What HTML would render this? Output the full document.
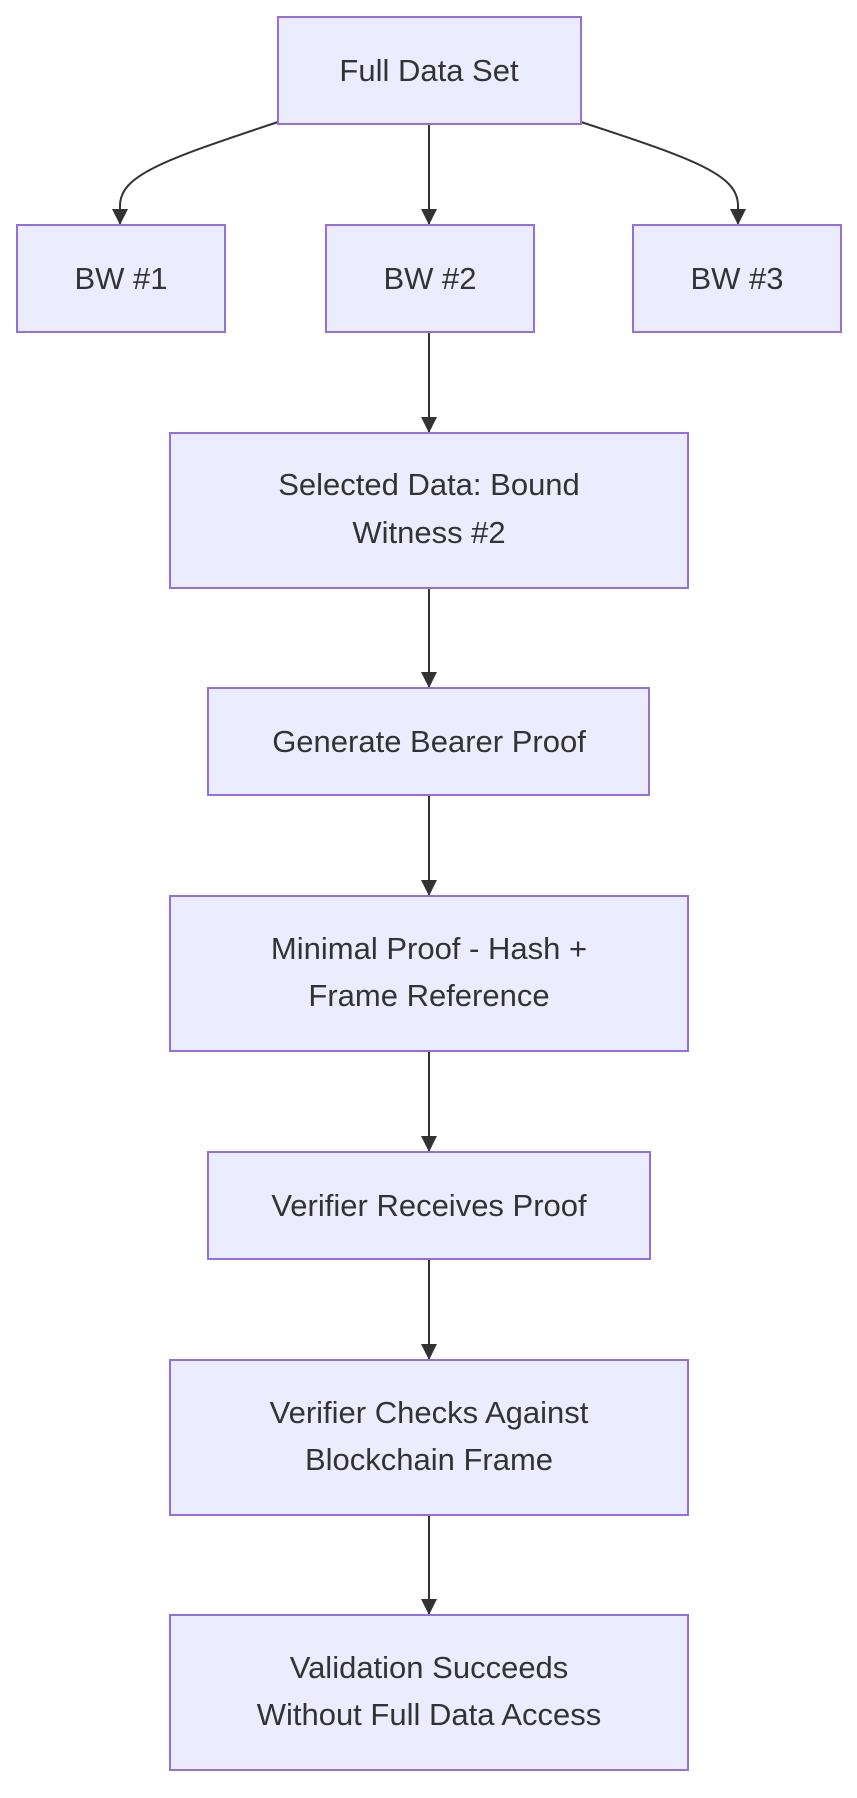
<!DOCTYPE html>
<html><head><style>
body{margin:0;background:#fff;}
svg text{font-family:"Liberation Sans","DejaVu Sans",sans-serif;font-size:31px;fill:#333;text-anchor:middle;}
rect{fill:#ECECFF;stroke:#9370DB;stroke-width:2;}
path{stroke:#333;stroke-width:2;fill:none;}
</style></head><body>
<svg width="857" height="1793" xmlns="http://www.w3.org/2000/svg">
<defs>
<marker id="b" viewBox="0 0 10 10" refX="10" refY="5" markerWidth="16" markerHeight="16" orient="auto" markerUnits="userSpaceOnUse"><path d="M0,0L10,5L0,10z" style="fill:#333;stroke:none"/></marker></defs>
<path d="M278,122 C160,161 120,176 120,206 L120,225" marker-end="url(#b)"/>
<path d="M429,124 L429,225" marker-end="url(#b)"/>
<path d="M581,122 C701,161 738,176 738,206 L738,225" marker-end="url(#b)"/>
<path d="M429,332 L429,433" marker-end="url(#b)"/>
<path d="M429,588 L429,688" marker-end="url(#b)"/>
<path d="M429,795 L429,896" marker-end="url(#b)"/>
<path d="M429,1051 L429,1152" marker-end="url(#b)"/>
<path d="M429,1259 L429,1360" marker-end="url(#b)"/>
<path d="M429,1515 L429,1615" marker-end="url(#b)"/>
<rect x="278" y="17" width="303" height="107"/><text x="429" y="81">Full Data Set</text>
<rect x="17" y="225" width="208" height="107"/><text x="121" y="289">BW #1</text>
<rect x="326" y="225" width="208" height="107"/><text x="430" y="289">BW #2</text>
<rect x="633" y="225" width="208" height="107"/><text x="737" y="289">BW #3</text>
<rect x="170" y="433" width="518" height="155"/><text x="429" y="495">Selected Data: Bound</text><text x="429" y="543">Witness #2</text>
<rect x="208" y="688" width="441" height="107"/><text x="429" y="752">Generate Bearer Proof</text>
<rect x="170" y="896" width="518" height="155"/><text x="429" y="959">Minimal Proof - Hash +</text><text x="429" y="1006">Frame Reference</text>
<rect x="208" y="1152" width="442" height="107"/><text x="429" y="1216">Verifier Receives Proof</text>
<rect x="170" y="1360" width="518" height="155"/><text x="429" y="1423">Verifier Checks Against</text><text x="429" y="1470">Blockchain Frame</text>
<rect x="170" y="1615" width="518" height="155"/><text x="429" y="1678">Validation Succeeds</text><text x="429" y="1725">Without Full Data Access</text>
</svg>
</body></html>
